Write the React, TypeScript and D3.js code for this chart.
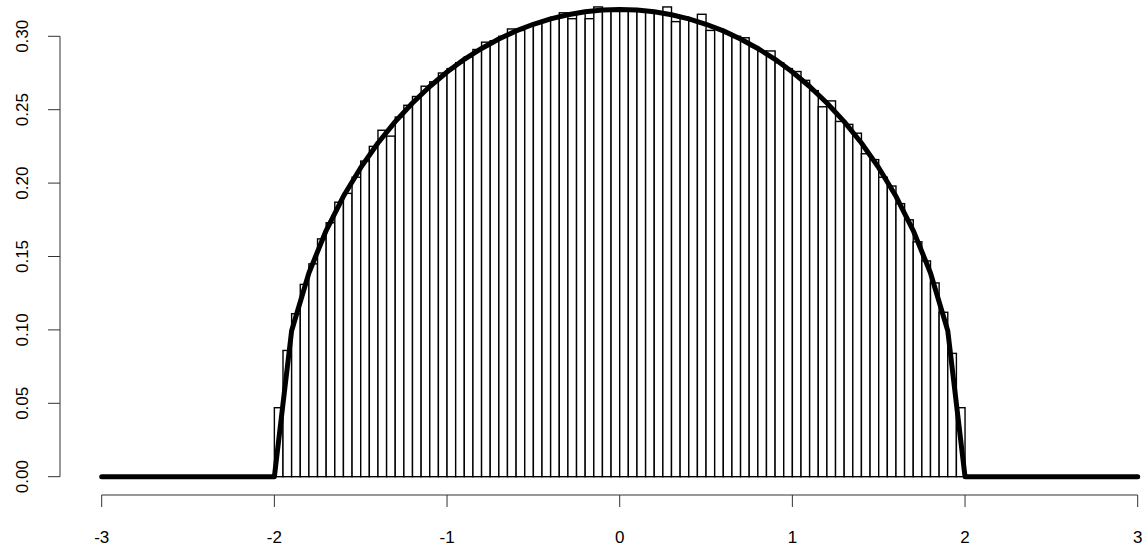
import React from "react";
import * as d3 from "d3";

// histogram: bins of width 0.05 starting at -2, density per bin
const binLeft = -2;
const binWidth = 0.05;
const densities = [
  0.047, 0.086, 0.111, 0.131, 0.145, 0.162, 0.173, 0.187, 0.193, 0.204,
  0.215, 0.225, 0.236, 0.232, 0.245, 0.253, 0.259, 0.266, 0.269, 0.275,
  0.278, 0.282, 0.286, 0.291, 0.296, 0.297, 0.3, 0.305, 0.304, 0.307,
  0.309, 0.311, 0.313, 0.316, 0.312, 0.316, 0.312, 0.32, 0.318, 0.318,
  0.318, 0.318, 0.318, 0.317, 0.316, 0.32, 0.31, 0.313, 0.311, 0.315,
  0.304, 0.305, 0.302, 0.3, 0.299, 0.293, 0.29, 0.29, 0.282, 0.278,
  0.276, 0.27, 0.263, 0.252, 0.256, 0.242, 0.24, 0.234, 0.22, 0.216,
  0.204, 0.198, 0.186, 0.175, 0.16, 0.147, 0.132, 0.112, 0.084, 0.047,
];

// overlaid density curve (0.1 apart, straight segments)
const curveX = [
  -3, -2, -1.9, -1.8, -1.7, -1.6, -1.5, -1.4, -1.3, -1.2, -1.1, -1, -0.9,
  -0.8, -0.7, -0.6, -0.5, -0.4, -0.3, -0.2, -0.1, 0, 0.1, 0.2, 0.3, 0.4, 0.5,
  0.6, 0.7, 0.8, 0.9, 1, 1.1, 1.2, 1.3, 1.4, 1.5, 1.6, 1.7, 1.8, 1.9, 2, 3,
];
const curveY = [
  0, 0, 0.0994, 0.1388, 0.1677, 0.191, 0.2105, 0.2273, 0.2419, 0.2546,
  0.2658, 0.2757, 0.2843, 0.2917, 0.2982, 0.3037, 0.3082, 0.3119, 0.3147,
  0.3167, 0.3179, 0.3183, 0.3179, 0.3167, 0.3147, 0.3119, 0.3082, 0.3037,
  0.2982, 0.2917, 0.2843, 0.2757, 0.2658, 0.2546, 0.2419, 0.2273, 0.2105,
  0.191, 0.1677, 0.1388, 0.0994, 0, 0,
];

const xTicks = [-3, -2, -1, 0, 1, 2, 3];
const yTicks = [0, 0.05, 0.1, 0.15, 0.2, 0.25, 0.3];

const W = 1148;
const H = 547;

export default function App() {
  const x = d3.scaleLinear().domain([-3, 3]).range([101.7, 1137.7]);
  const y = d3.scaleLinear().domain([0, 0.3]).range([476.7, 36.3]);

  const line = d3
    .line<number>()
    .x((_, i) => x(curveX[i]))
    .y((d) => y(d));

  const axisY = 495;
  const axisX = 60;
  const tick = 12;
  const font = "'Liberation Sans', Arial, sans-serif";

  return (
    <svg
      width={W}
      height={H}
      style={{ position: "absolute", left: 0, top: 0, background: "#fff" }}
    >
      {/* bars */}
      <g fill="#fff" stroke="#000" strokeWidth={1.4}>
        {densities.map((d, i) => {
          const x0 = x(binLeft + i * binWidth);
          const x1 = x(binLeft + (i + 1) * binWidth);
          return (
            <rect
              key={i}
              x={x0}
              y={y(d)}
              width={x1 - x0}
              height={y(0) - y(d)}
            />
          );
        })}
      </g>

      {/* density curve */}
      <path
        d={line(curveY) || ""}
        fill="none"
        stroke="#000"
        strokeWidth={5}
        strokeLinecap="round"
        strokeLinejoin="round"
      />

      {/* x axis */}
      <g stroke="#333" strokeWidth={1}>
        <line x1={x(-3)} x2={x(3)} y1={axisY} y2={axisY} />
        {xTicks.map((t) => (
          <line key={t} x1={x(t)} x2={x(t)} y1={axisY} y2={axisY + tick} />
        ))}
      </g>
      <g fontFamily={font} fontSize={17} fill="#000" textAnchor="middle">
        {xTicks.map((t) => (
          <text key={t} x={x(t)} y={543}>
            {t}
          </text>
        ))}
      </g>

      {/* y axis */}
      <g stroke="#333" strokeWidth={1}>
        <line x1={axisX} x2={axisX} y1={y(0)} y2={y(0.3)} />
        {yTicks.map((t) => (
          <line key={t} x1={axisX - tick} x2={axisX} y1={y(t)} y2={y(t)} />
        ))}
      </g>
      <g fontFamily={font} fontSize={17} fill="#000" textAnchor="middle">
        {yTicks.map((t) => (
          <text
            key={t}
            transform={`translate(28,${y(t)}) rotate(-90)`}
          >
            {t.toFixed(2)}
          </text>
        ))}
      </g>
    </svg>
  );
}
